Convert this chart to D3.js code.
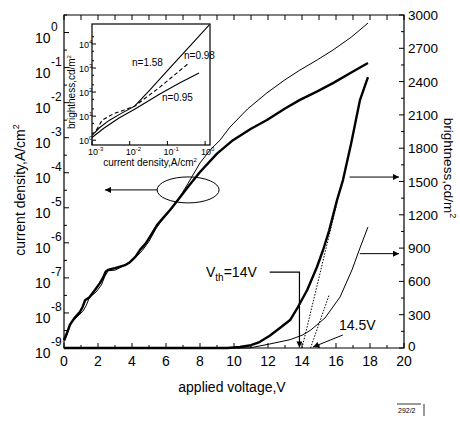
<!DOCTYPE html>
<html>
<head>
<meta charset="utf-8">
<script src="https://cdn.jsdelivr.net/npm/d3@7"></script>
<style>
  body { margin: 0; background: #fff; }
  text { font-family: "Liberation Sans", Arial, Helvetica, sans-serif; fill: #000; }
</style>
</head>
<body>
<svg id="chart" width="460" height="423"></svg>
<script>
// ---- data ----
const voltTicks = [0, 2, 4, 6, 8, 10, 12, 14, 16, 18, 20];
const densityExps = [-9, -8, -7, -6, -5, -4, -3, -2, -1, 0];
const brightTicks = [0, 300, 600, 900, 1200, 1500, 1800, 2100, 2400, 2700, 3000];

// current density (A/cm2) vs voltage, thick (dotted) curve
const jThickV = [0, 0.15, 0.35, 0.6, 0.94, 1.1, 1.24, 1.5, 1.82, 2.1, 2.29, 2.45, 2.59, 2.8, 3.0, 3.3, 3.59, 3.88, 4.2, 4.47, 4.8, 5.06, 5.47, 5.9, 6.24, 6.7, 7.3, 8.0, 9.0, 9.94, 11.0, 11.94, 13.0, 13.88, 14.9, 15.82, 16.9, 17.88];
const jThick = [1.7e-9, 2.5e-9, 4.6e-9, 7e-9, 1.07e-8, 1.5e-8, 2.3e-8, 2.8e-8, 4.5e-8, 7e-8, 1e-7, 1.5e-7, 1.7e-7, 1.8e-7, 1.9e-7, 2.1e-7, 2.3e-7, 2.8e-7, 4e-7, 6.3e-7, 9.5e-7, 1.5e-6, 3.2e-6, 5.6e-6, 8.7e-6, 1.66e-5, 4e-5, 1.05e-4, 3.5e-4, 8.5e-4, 1.8e-3, 3.2e-3, 6.8e-3, 1.2e-2, 2.1e-2, 3.6e-2, 7.2e-2, 0.135];

// current density, thin curve
const jThinV = [0.05, 0.4, 0.8, 1.1, 1.3, 1.5, 1.9, 2.2, 2.4, 2.6, 3.0, 3.5, 4.0, 4.3, 4.6, 5.0, 5.4, 5.8, 6.2, 6.7, 7.3, 8.0, 8.6, 9.18, 9.76, 10.8, 11.94, 13.0, 13.88, 14.9, 15.82, 16.9, 17.88];
const jThin = [1.6e-9, 5e-9, 8e-9, 1.1e-8, 1.6e-8, 2.8e-8, 4e-8, 6.3e-8, 1.1e-7, 1.6e-7, 1.66e-7, 2.2e-7, 3.2e-7, 4.2e-7, 6e-7, 1.1e-6, 2.5e-6, 4.8e-6, 8.3e-6, 1.66e-5, 5e-5, 1.9e-4, 4.5e-4, 8.5e-4, 2e-3, 6.6e-3, 1.9e-2, 4.5e-2, 8.5e-2, 0.166, 0.316, 0.74, 1.86];

// brightness (cd/m2) vs voltage
const bThickV = [0, 9.6, 10.35, 11.0, 11.5, 12.1, 12.7, 13.3, 13.76, 14.3, 14.88, 15.24, 15.6, 16.06, 16.41, 16.9, 17.41, 17.88];
const bThick = [0, 0, 9, 25, 54, 110, 180, 252, 369, 520, 730, 883, 1060, 1333, 1513, 1850, 2234, 2441];
const bThinV = [0, 10.9, 12.1, 13.3, 14.0, 14.5, 15.35, 16.24, 16.94, 17.41, 17.88];
const bThin = [0, 0, 36, 75, 115, 160, 270, 460, 703, 901, 1090];

// threshold tangents
const tan1V = [14, 16.1], tan1B = [0, 1333];
const tan2V = [14.5, 15.6], tan2B = [0, 480];

// inset: brightness vs current density
const insetXExps = [-3, -2, -1, 0];
const insetYExps = [0, 1, 2, 3, 4];
const n158J = [1e-3, 1.55e-3, 2.9e-3, 6e-3, 1.35e-2, 3.4e-2, 0.115, 0.4, 1.29];
const n158B = [1.6, 3.2, 6.8, 13, 26, 120, 1000, 8300, 62000];
const n098J = [1.3e-3, 1.86e-3, 3.9e-3, 7.2e-3, 1.35e-2, 6.3e-2, 0.37];
const n098B = [2.6, 6.8, 13, 18, 26, 160, 1600];
const n095J = [1e-3, 2.1e-3, 5.2e-3, 1.35e-2, 6.3e-2, 0.21, 0.69];
const n095B = [1.3, 3.2, 8.3, 19.5, 83, 240, 620];

// ---- layout ----
const svg = d3.select('#chart');
const L = 64, R = 404, T = 15, B = 348;

const x = d3.scaleLinear().domain([0, 20]).range([L, R]);
const yJ = d3.scaleLog().domain([1e-9, Math.pow(10, 0.5)]).range([B, T]);
const yB = d3.scaleLinear().domain([0, 3000]).range([B, T]);

const ix = d3.scaleLog().domain([1e-3, Math.pow(10, 0.13)]).range([92, 210]);
const iy = d3.scaleLog().domain([Math.pow(10, -0.2), Math.pow(10, 4.83)]).range([145, 24]);

// arrow heads
const defs = svg.append('defs');
defs.append('marker')
    .attr('id', 'arrow')
    .attr('viewBox', '0 0 10 10')
    .attr('refX', 10).attr('refY', 5)
    .attr('markerWidth', 9).attr('markerHeight', 6)
    .attr('markerUnits', 'userSpaceOnUse')
    .attr('orient', 'auto')
    .append('path')
    .attr('d', 'M0,0 L10,5 L0,10 Z')
    .attr('fill', '#000');

// ---- frame ----
svg.append('path')
    .attr('d', `M${L},${B} L${L},${T} L${R},${T} L${R},${B} Z`)
    .attr('fill', 'none')
    .attr('stroke', '#000')
    .attr('stroke-width', 1.2);

// bottom ticks (every volt) and top ticks
const allVolts = d3.range(0, 21, 1);
svg.append('g').selectAll('line').data(allVolts).join('line')
    .attr('x1', d => x(d)).attr('x2', d => x(d))
    .attr('y1', B).attr('y2', d => d % 2 === 0 ? B - 5 : B - 3)
    .attr('stroke', '#000');
svg.append('g').selectAll('line').data(allVolts).join('line')
    .attr('x1', d => x(d)).attr('x2', d => x(d))
    .attr('y1', T).attr('y2', T + 5)
    .attr('stroke', '#000');

svg.append('g').selectAll('text').data(voltTicks).join('text')
    .attr('x', d => x(d))
    .attr('y', 366)
    .attr('text-anchor', 'middle')
    .attr('font-size', 14)
    .text(d => d);

// left log axis
svg.append('g').selectAll('line').data(densityExps).join('line')
    .attr('x1', L).attr('x2', L + 5)
    .attr('y1', d => yJ(Math.pow(10, d))).attr('y2', d => yJ(Math.pow(10, d)))
    .attr('stroke', '#000');
svg.append('g').selectAll('line').data(densityExps).join('line')
    .attr('x1', L).attr('x2', L + 3)
    .attr('y1', d => yJ(Math.pow(10, d + 0.5))).attr('y2', d => yJ(Math.pow(10, d + 0.5)))
    .attr('stroke', '#000');

const jLab = svg.append('g').selectAll('g').data(densityExps).join('g')
    .attr('transform', d => `translate(0,${yJ(Math.pow(10, d))})`);
jLab.append('text')
    .attr('x', 35).attr('y', 10)
    .attr('font-size', 14)
    .text('10');
jLab.append('text')
    .attr('x', 51).attr('y', -2)
    .attr('font-size', 12)
    .text(d => d === 0 ? '0' : '-' + Math.abs(d));

// right linear axis
const minorB = d3.range(150, 3000, 300);
svg.append('g').selectAll('line').data(brightTicks).join('line')
    .attr('x1', R).attr('x2', R - 5)
    .attr('y1', d => yB(d)).attr('y2', d => yB(d))
    .attr('stroke', '#000');
svg.append('g').selectAll('line').data(minorB).join('line')
    .attr('x1', R).attr('x2', R - 3)
    .attr('y1', d => yB(d)).attr('y2', d => yB(d))
    .attr('stroke', '#000');
svg.append('g').selectAll('text').data(brightTicks).join('text')
    .attr('x', 408)
    .attr('y', d => yB(d) + (d === 0 ? 3 : 5))
    .attr('font-size', 13.5)
    .text(d => d);

// axis titles
svg.append('text')
    .attr('x', 232).attr('y', 392)
    .attr('text-anchor', 'middle')
    .attr('font-size', 14)
    .text('applied voltage,V');

const lt = svg.append('text')
    .attr('transform', 'translate(25,190) rotate(-90)')
    .attr('text-anchor', 'middle')
    .attr('font-size', 14);
lt.append('tspan').text('current density,A/cm');
lt.append('tspan').attr('font-size', 9).attr('dy', -6).text('2');

const rt = svg.append('text')
    .attr('transform', 'translate(444,168) rotate(90)')
    .attr('text-anchor', 'middle')
    .attr('font-size', 13.5);
rt.append('tspan').text('brightness,cd/m');
rt.append('tspan').attr('font-size', 9).attr('dy', -6).text('2');

// ---- curves ----
const lineJ = (vs, js) => d3.line().x((d, i) => x(vs[i])).y((d, i) => yJ(js[i]))(js);
const lineB = (vs, bs) => d3.line().x((d, i) => x(vs[i])).y((d, i) => yB(bs[i]))(bs);

svg.append('path').attr('d', lineJ(jThinV, jThin))
    .attr('fill', 'none').attr('stroke', '#000').attr('stroke-width', 1);
svg.append('path').attr('d', lineJ(jThickV, jThick))
    .attr('fill', 'none').attr('stroke', '#000').attr('stroke-width', 2.4)
    .attr('stroke-linejoin', 'round');

svg.append('path').attr('d', lineB(bThinV, bThin))
    .attr('fill', 'none').attr('stroke', '#000').attr('stroke-width', 1);
svg.append('path').attr('d', lineB(bThickV, bThick))
    .attr('fill', 'none').attr('stroke', '#000').attr('stroke-width', 2.4)
    .attr('stroke-linejoin', 'round');

svg.append('path').attr('d', lineB(tan1V, tan1B))
    .attr('fill', 'none').attr('stroke', '#000').attr('stroke-width', 1)
    .attr('stroke-dasharray', '1.5,1.5');
svg.append('path').attr('d', lineB(tan2V, tan2B))
    .attr('fill', 'none').attr('stroke', '#000').attr('stroke-width', 1)
    .attr('stroke-dasharray', '1.5,1.5');

// ---- annotations ----
// ellipse with arrow to left axis
svg.append('ellipse')
    .attr('cx', x(7.3)).attr('cy', yJ(Math.pow(10, -4.49)))
    .attr('rx', 31).attr('ry', 13)
    .attr('fill', 'none').attr('stroke', '#000');
svg.append('line')
    .attr('x1', x(7.3) - 31).attr('x2', 105)
    .attr('y1', yJ(Math.pow(10, -4.49))).attr('y2', yJ(Math.pow(10, -4.49)))
    .attr('stroke', '#000').attr('marker-end', 'url(#arrow)');

// arrows to right axis
svg.append('line')
    .attr('x1', x(16.8)).attr('x2', R - 5)
    .attr('y1', yB(1540)).attr('y2', yB(1540))
    .attr('stroke', '#000').attr('marker-end', 'url(#arrow)');
svg.append('line')
    .attr('x1', x(17.4)).attr('x2', R - 5)
    .attr('y1', yB(850)).attr('y2', yB(850))
    .attr('stroke', '#000').attr('marker-end', 'url(#arrow)');

// V_th = 14V
svg.append('path')
    .attr('d', `M${x(12.1)},${yB(684)} L${x(13.85)},${yB(684)} L${x(13.85)},${yB(5)}`)
    .attr('fill', 'none').attr('stroke', '#000').attr('stroke-width', 1.2)
    .attr('marker-end', 'url(#arrow)');
const vth = svg.append('text')
    .attr('x', 206).attr('y', 277)
    .attr('font-size', 14);
vth.append('tspan').text('V');
vth.append('tspan').attr('font-size', 10).attr('dy', 4).text('th');
vth.append('tspan').attr('dy', -4).text('=14V');

// 14.5V
svg.append('line')
    .attr('x1', x(16.4)).attr('x2', x(14.65))
    .attr('y1', yB(117)).attr('y2', yB(9))
    .attr('stroke', '#000').attr('marker-end', 'url(#arrow)');
svg.append('text')
    .attr('x', 339).attr('y', 330)
    .attr('font-size', 14)
    .text('14.5V');

// ---- inset ----
const inset = svg.append('g');
inset.append('rect')
    .attr('x', 92).attr('y', 24)
    .attr('width', 118).attr('height', 121)
    .attr('fill', '#fff').attr('stroke', '#000').attr('stroke-width', 1.2);

const iyMinor = [];
insetYExps.forEach(e => [2, 5].forEach(m => { if (e < 4 || m === 2) iyMinor.push(m * Math.pow(10, e)); }));
inset.append('g').selectAll('line').data(insetYExps).join('line')
    .attr('x1', 92).attr('x2', 96)
    .attr('y1', d => iy(Math.pow(10, d))).attr('y2', d => iy(Math.pow(10, d)))
    .attr('stroke', '#000');
inset.append('g').selectAll('line').data(iyMinor).join('line')
    .attr('x1', 92).attr('x2', 94)
    .attr('y1', d => iy(d)).attr('y2', d => iy(d))
    .attr('stroke', '#000');
inset.append('g').selectAll('line').data(insetXExps).join('line')
    .attr('x1', d => ix(Math.pow(10, d))).attr('x2', d => ix(Math.pow(10, d)))
    .attr('y1', 145).attr('y2', 141)
    .attr('stroke', '#000');

const iyLab = inset.append('g').selectAll('text').data(insetYExps).join('text')
    .attr('x', 79).attr('y', d => iy(Math.pow(10, d)) + 4)
    .attr('font-size', 9);
iyLab.append('tspan').text('10');
iyLab.append('tspan').attr('font-size', 6).attr('dy', -4).text(d => d);

const ixLab = inset.append('g').selectAll('text').data(insetXExps).join('text')
    .attr('x', d => ix(Math.pow(10, d)) - 4).attr('y', 155)
    .attr('font-size', 9);
ixLab.append('tspan').text('10');
ixLab.append('tspan').attr('font-size', 6).attr('dy', -4).text(d => d === 0 ? '0' : '-' + Math.abs(d));

const ixt = inset.append('text')
    .attr('x', 150).attr('y', 166)
    .attr('text-anchor', 'middle')
    .attr('font-size', 10);
ixt.append('tspan').text('current density,A/cm');
ixt.append('tspan').attr('font-size', 6).attr('dy', -4).text('2');

const iyt = inset.append('text')
    .attr('transform', 'translate(75,92) rotate(-90)')
    .attr('text-anchor', 'middle')
    .attr('font-size', 10);
iyt.append('tspan').text('brightness,cd/m');
iyt.append('tspan').attr('font-size', 6).attr('dy', -4).text('2');

const lineI = (js, bs) => d3.line().x((d, i) => ix(js[i])).y((d, i) => iy(bs[i]))(bs);
inset.append('path').attr('d', lineI(n158J, n158B))
    .attr('fill', 'none').attr('stroke', '#000').attr('stroke-width', 1.1);
inset.append('path').attr('d', lineI(n098J, n098B))
    .attr('fill', 'none').attr('stroke', '#000').attr('stroke-width', 1.1)
    .attr('stroke-dasharray', '4,2.5');
inset.append('path').attr('d', lineI(n095J, n095B))
    .attr('fill', 'none').attr('stroke', '#000').attr('stroke-width', 1.1);

inset.append('text').attr('x', 132).attr('y', 66).attr('font-size', 10).text('n=1.58');
inset.append('text').attr('x', 184).attr('y', 59).attr('font-size', 10).text('n=0.98');
inset.append('text').attr('x', 162).attr('y', 101).attr('font-size', 10).text('n=0.95');

// ---- figure number box ----
svg.append('path')
    .attr('d', 'M397,404 L421,404 M424,404 L424,416')
    .attr('fill', 'none').attr('stroke', '#000').attr('stroke-width', 0.8);
svg.append('text')
    .attr('x', 398).attr('y', 413)
    .attr('font-size', 7)
    .text('292/2');
</script>
</body>
</html>
